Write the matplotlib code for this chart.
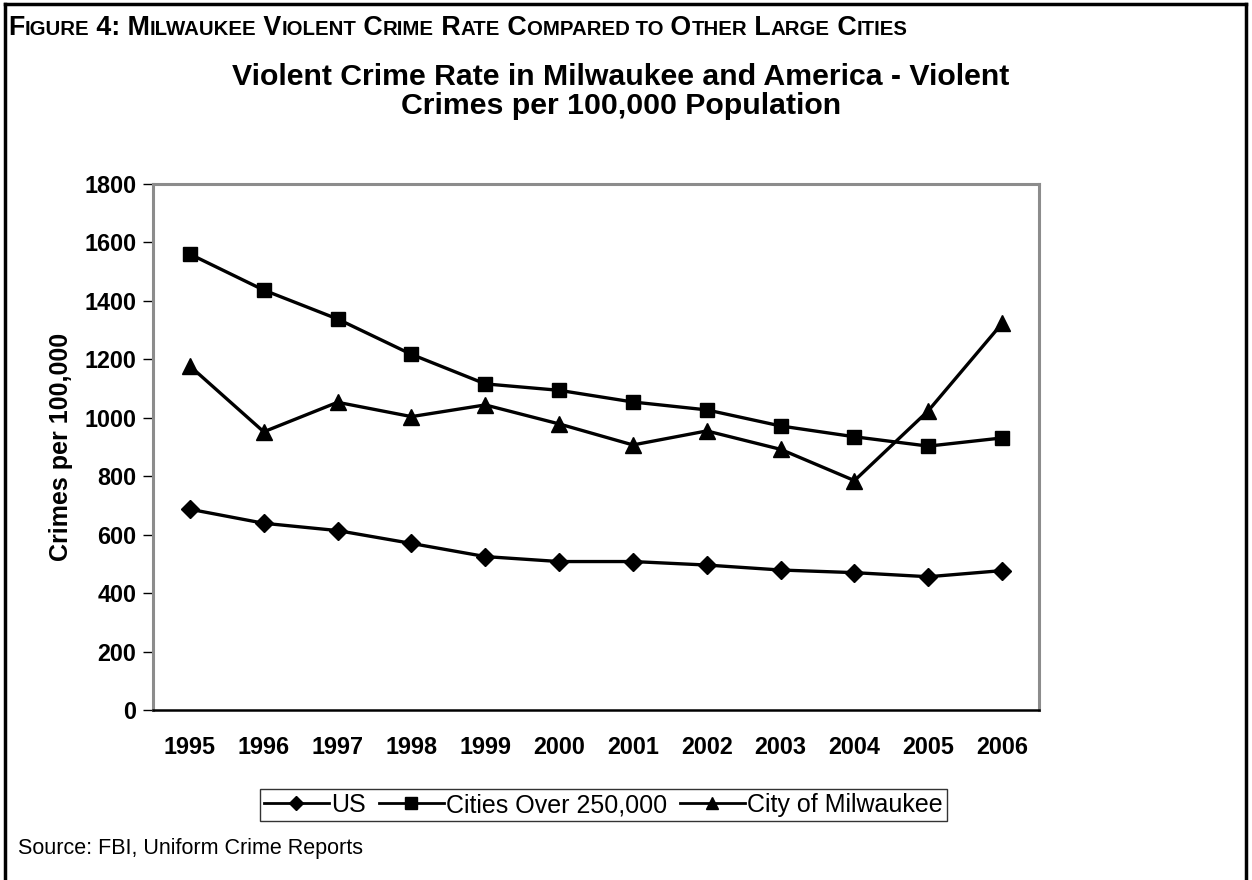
import matplotlib.pyplot as plt
from matplotlib.lines import Line2D

plt.rcParams['font.family'] = ['Liberation Sans', 'DejaVu Sans']

# Daten
years = ['1995', '1996', '1997', '1998', '1999', '2000',
         '2001', '2002', '2003', '2004', '2005', '2006']
us = [687, 639, 614, 570, 525, 508, 508, 496, 479, 470, 456, 477]
cities_250k = [1560, 1437, 1338, 1217, 1116, 1094, 1054, 1027, 972, 935, 903, 931]
milwaukee = [1177, 952, 1053, 1004, 1044, 979, 907, 955, 892, 785, 1024, 1323]

fig = plt.figure(figsize=(12.52, 8.8), dpi=100)
ax = fig.add_axes([0.1222, 0.1932, 0.7077, 0.5977])

x = list(range(len(years)))
ax.plot(x, us, color='black', linewidth=2.4, marker='D', markersize=9, label='US')
ax.plot(x, cities_250k, color='black', linewidth=2.4, marker='s', markersize=10,
        label='Cities Over 250,000')
ax.plot(x, milwaukee, color='black', linewidth=2.4, marker='^', markersize=12,
        label='City of Milwaukee')

ax.set_xlim(-0.5, len(years) - 0.5)
ax.set_ylim(0, 1800)
ax.set_yticks(range(0, 1801, 200))
ax.set_xticks(x)
ax.set_xticklabels(years)

for s in ['left', 'top', 'right']:
    ax.spines[s].set_color('#8c8c8c')
    ax.spines[s].set_linewidth(2.2)
ax.spines['bottom'].set_color('black')
ax.spines['bottom'].set_linewidth(1.8)

ax.tick_params(axis='y', direction='out', length=7, width=1, color='black',
               labelsize=16.8, pad=5)
ax.tick_params(axis='x', length=0, labelsize=16.8, pad=19)
for lab in ax.get_xticklabels() + ax.get_yticklabels():
    lab.set_fontweight('bold')

ax.set_ylabel('Crimes per 100,000', fontsize=18, fontweight='bold', va='center')
ax.yaxis.set_label_coords(-0.104, 0.5)

fig.text(0.496, 0.896, 'Violent Crime Rate in Milwaukee and America - Violent\nCrimes per 100,000 Population',
         ha='center', va='center', fontsize=21.8, fontweight='bold', linespacing=1.02)

# Legende
handles = [
    Line2D([], [], color='black', linewidth=2, marker='D', markersize=7),
    Line2D([], [], color='black', linewidth=2, marker='s', markersize=8),
    Line2D([], [], color='black', linewidth=2, marker='^', markersize=9),
]
leg = fig.legend(handles, ['US', 'Cities Over 250,000', 'City of Milwaukee'],
                 loc='center', bbox_to_anchor=(0.482, 0.085), ncol=3,
                 fontsize=18, frameon=True, fancybox=False, edgecolor='black',
                 handlelength=2.6, handletextpad=0.1, columnspacing=0.5,
                 borderpad=0.15, borderaxespad=0)
leg.get_frame().set_linewidth(1)

fig.text(0.014, 0.036, 'Source: FBI, Uniform Crime Reports', fontsize=15.5, va='center')

# Ueberschrift in Kapitaelchen
header = [('F', 19.3), ('IGURE', 14.7), (' 4: M', 19.3), ('ILWAUKEE', 14.7), (' V', 19.3),
          ('IOLENT', 14.7), (' C', 19.3), ('RIME', 14.7), (' R', 19.3), ('ATE', 14.7),
          (' C', 19.3), ('OMPARED TO', 14.7), (' O', 19.3), ('THER', 14.7), (' L', 19.3),
          ('ARGE', 14.7), (' C', 19.3), ('ITIES', 14.7)]
renderer = fig.canvas.get_renderer()
xpos = 8
for txt, size in header:
    t = fig.text(xpos / 1252, 1 - 35 / 880, txt, fontsize=size, fontweight='bold',
                 va='baseline', ha='left')
    bb = t.get_window_extent(renderer=renderer)
    xpos += bb.width

# Rahmen
fig.add_artist(Line2D([0.004, 0.004], [0, 0.996], transform=fig.transFigure,
                      color='black', linewidth=2.5))
fig.add_artist(Line2D([0.004, 0.995], [0.996, 0.996], transform=fig.transFigure,
                      color='black', linewidth=2.5))
fig.add_artist(Line2D([0.995, 0.995], [0, 0.996], transform=fig.transFigure,
                      color='black', linewidth=2.5))

plt.savefig('out.png', dpi=100)
